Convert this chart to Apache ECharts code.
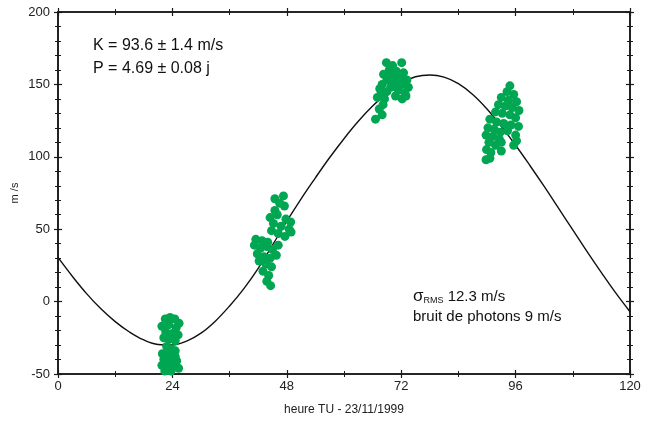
<!DOCTYPE html>
<html><head><meta charset="utf-8">
<script src="https://cdn.jsdelivr.net/npm/echarts@6/dist/echarts.min.js"></script>
<style>html,body{margin:0;padding:0;background:#fff}#c{width:660px;height:425px}</style>
</head><body><div id="c"></div>
<script>
// Fitted orbital curve (hour, m/s)
const curveT = [0,3,6,9,12,15,18,21,24,27,30,33,36,39,42,45,48,51,54,57,60,63,66,69,72,75,78,81,84,87,90,93,96,99,102,105,108,111,114,117,120];
const curveV = [30.5,17.5,5.5,-5,-13.8,-21,-26.5,-29.6,-30,-27.3,-21.8,-13.5,-3,9,23,39,55.5,71,85.5,99.5,112.5,124.5,135,144,151,155.3,156.5,155,150.5,143,133,121,108,94,79.5,64.5,49.5,34.5,20,6,-7];
// Measurements (hour, m/s), grouped by night
const night1 = [[22.5,-12],[23.5,-11],[24.5,-12],[21.8,-17],[23.2,-16],[24.8,-18],[25.4,-15],[22.6,-21],[24.0,-22],[25.2,-23],[23.3,-26],[24.6,-27],[22.2,-25],[22.8,-31],[23.8,-33],[24.6,-34],[23.0,-37],[22.2,-40],[23.6,-40],[24.9,-41],[21.8,-44],[23.1,-45],[24.2,-44],[25.3,-46],[22.4,-48],[23.7,-48],[24.6,-38],[21.9,-36]];
const night2 = [[47.3,73],[45.5,71],[47.5,66],[45.5,63],[46.5,68],[44.5,58],[46.0,60],[47.8,57],[48.8,55],[45.2,54],[46.8,52],[48.5,50],[44.8,49],[46.2,47],[47.6,45],[48.9,48],[41.5,43],[42.8,42],[44.0,41],[41.2,39],[42.5,37],[43.8,38],[45.0,36],[46.2,39],[41.8,33],[43.2,31],[44.5,30],[45.8,32],[42.2,28],[43.6,26],[44.8,24],[43.0,21],[44.2,18],[43.8,14],[44.6,11]];
const night3 = [[68.9,165],[72.1,165],[70.2,163],[69.5,160],[71.0,159],[72.5,158],[68.3,157],[70.0,156],[71.8,155],[73.2,153],[69.0,153],[70.6,151],[72.3,150],[68.0,150],[73.5,148],[69.8,148],[71.4,146],[72.8,144],[67.5,147],[70.8,142],[72.2,140],[73.0,142],[67.8,144],[68.5,140],[67.0,141],[68.2,136],[67.4,133],[68.0,129],[66.6,126],[69.0,145],[71.5,153]];
const night4 = [[94.8,149],[94.2,145],[95.6,143],[93.0,141],[94.5,139],[96.2,138],[92.4,136],[93.8,135],[95.3,134],[96.7,132],[91.8,131],[93.2,130],[94.8,129],[96.0,127],[90.6,126],[92.0,124],[93.5,123],[95.0,122],[96.6,121],[90.2,120],[91.5,119],[92.8,117],[94.3,118],[89.8,115],[91.2,114],[92.6,112],[96.0,115],[90.4,110],[91.8,108],[93.0,110],[95.6,108],[96.2,111],[89.9,105],[90.8,103],[93.0,104],[90.6,99],[89.8,98]];
const xTicks = [0,24,48,72,96,120];
const yTicks = [-50,0,50,100,150,200];

const AX = '#1a1a1a';
const FONT = 'Liberation Sans, Arial, sans-serif';
function xa(pos, inside, labels, name){
  return {type:'value', position:pos, min:xTicks[0], max:xTicks[xTicks.length-1], interval:xTicks[1]-xTicks[0],
    name: name||'', nameLocation:'middle', nameGap:30,
    nameTextStyle:{fontFamily:FONT, fontSize:12, color:'#222'},
    axisLine:{show:true, onZero:false, lineStyle:{color:AX, width:1.6}},
    axisTick:{show:true, inside:inside, length:4, lineStyle:{color:AX, width:1.2}},
    minorTick:{show:true, splitNumber:2, length:3, lineStyle:{color:AX, width:1}},
    axisLabel:{show:labels, margin:6, fontFamily:FONT, fontSize:13, color:'#222'},
    splitLine:{show:false}};
}
function ya(pos, inside, labels, name){
  return {type:'value', position:pos, min:yTicks[0], max:yTicks[yTicks.length-1], interval:yTicks[1]-yTicks[0],
    name: name||'', nameLocation:'middle', nameGap:38, nameRotate:90, nameMoveOverlap:false,
    nameTextStyle:{fontFamily:FONT, fontSize:11, color:'#222'},
    axisLine:{show:true, onZero:false, lineStyle:{color:AX, width:1.6}},
    axisTick:{show:true, inside:inside, length:4, lineStyle:{color:AX, width:1.2}},
    minorTick:{show:true, splitNumber:5, length:3, lineStyle:{color:AX, width:1}},
    axisLabel:{show:labels, margin:8, fontFamily:FONT, fontSize:13, color:'#222'},
    splitLine:{show:false}};
}
const green = '#00a651';
const chart = echarts.init(document.getElementById('c'), null, {renderer:'canvas'});
chart.setOption({
  animation:false,
  grid:{left:58, right:30, top:12, bottom:51},
  xAxis:[xa('bottom',false,true,'heure TU - 23/11/1999'), xa('bottom',true,false), xa('top',false,false), xa('top',true,false)],
  yAxis:[ya('left',false,true,'m /s'), ya('left',true,false), ya('right',false,false), ya('right',true,false)],
  series:[
    {type:'line', data:curveT.map((t,i)=>[t,curveV[i]]), smooth:0.4, showSymbol:false, z:2,
     lineStyle:{color:'#111', width:1.4}},
    ...[night1,night2,night3,night4].map(d=>({type:'scatter', data:d, symbolSize:9, z:3,
      itemStyle:{color:green, opacity:1}}))
  ],
  graphic:[
    {type:'text', left:93, top:38, style:{text:'K = 93.6 \u00b1 1.4 m/s', font:'16px '+FONT, fill:'#111'}},
    {type:'text', left:93, top:61, style:{text:'P = 4.69 \u00b1 0.08 j', font:'16px '+FONT, fill:'#111'}},
    {type:'text', left:413, top:288, style:{
      text:'{s|\u03c3}{sub|RMS}{n| 12.3 m/s}', font:'15px '+FONT, fill:'#111',
      rich:{s:{fontSize:17, fontFamily:FONT, fill:'#111'}, sub:{fontSize:9, fontFamily:FONT, verticalAlign:'bottom', padding:[8,0,0,0], fill:'#111'}, n:{fontSize:15, fontFamily:FONT, fill:'#111'}}}},
    {type:'text', left:413, top:309, style:{text:'bruit de photons 9 m/s', font:'15px '+FONT, fill:'#111'}}
  ]
});
</script></body></html>
